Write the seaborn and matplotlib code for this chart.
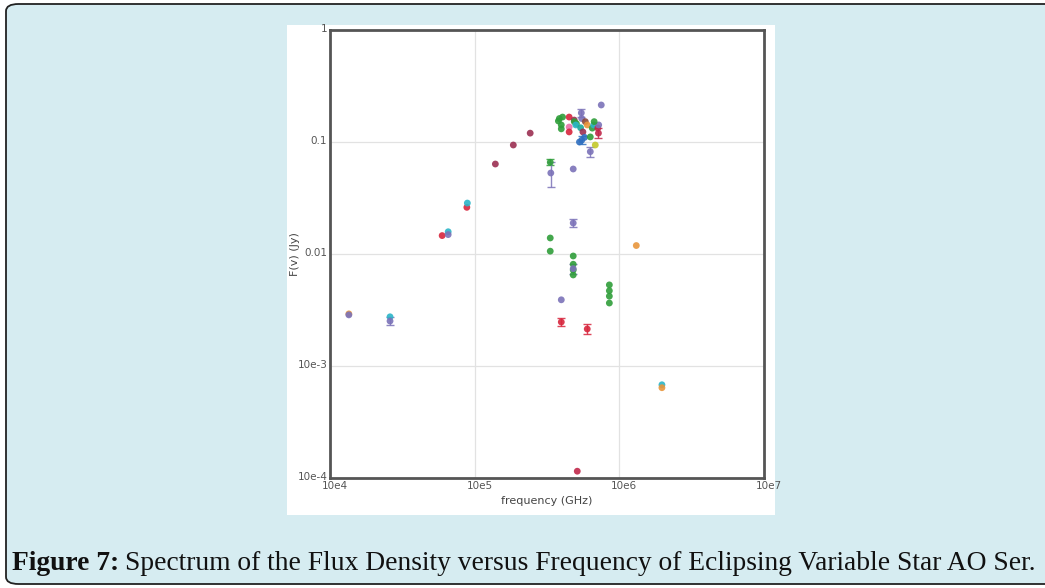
import numpy as np
import pandas as pd
import matplotlib
matplotlib.use("Agg")
import matplotlib.pyplot as plt
import matplotlib.transforms as mtransforms
from matplotlib.patches import FancyBboxPatch, Rectangle
import seaborn as sns

# ---- data (frequency in GHz, flux density in Jy) ----
freq = [1.35e4, 1.35e4, 2.6e4, 2.6e4, 5.96e4, 6.56e4, 6.56e4, 8.83e4, 8.9e4,
        1.39e5, 1.85e5, 2.42e5,
        3.79e5, 3.97e5, 3.97e5, 3.85e5, 4.05e5,
        4.5e5, 4.88e5, 4.5e5, 4.5e5, 4.88e5, 5.05e5, 5.0e5,
        5.46e5, 5.5e5, 5.4e5, 5.82e5, 6.0e5, 5.6e5, 5.5e5, 5.3e5, 5.75e5,
        6.3e5, 6.5e5, 6.65e5, 6.82e5, 6.3e5, 7.17e5, 7.1e5, 7.2e5, 6.7e5,
        7.5e5,
        3.33e5, 3.36e5, 4.8e5, 4.8e5,
        3.33e5, 3.33e5, 4.8e5, 4.8e5, 4.8e5, 4.8e5, 4.8e5,
        8.53e5, 8.53e5, 8.53e5, 8.53e5,
        3.97e5, 3.97e5, 6.0e5,
        1.31e6, 1.97e6, 1.97e6, 5.12e5]
flux = [0.00292, 0.00286, 0.00275, 0.00252, 0.0146, 0.0158, 0.0149, 0.0261, 0.0285,
        0.0636, 0.094, 0.12,
        0.154, 0.142, 0.131, 0.162, 0.167,
        0.167, 0.157, 0.136, 0.123, 0.152, 0.146, 0.142,
        0.182, 0.162, 0.134, 0.152, 0.142, 0.123, 0.104, 0.1, 0.11,
        0.111, 0.133, 0.142, 0.094, 0.082, 0.12, 0.133, 0.142, 0.152,
        0.214,
        0.0659, 0.0529, 0.0574, 0.0189,
        0.0139, 0.0106, 0.0096, 0.0081, 0.0072, 0.0065, 0.0074,
        0.0053, 0.0047, 0.0042, 0.00365,
        0.0039, 0.00247, 0.00214,
        0.0119, 0.00068, 0.00064, 0.000115]
flux_err = [0, 0, 0, 0.0002, 0, 0, 0, 0, 0,
            0, 0, 0,
            0, 0, 0, 0, 0,
            0, 0, 0, 0, 0, 0, 0,
            0.015, 0, 0, 0, 0, 0, 0.008, 0, 0,
            0, 0, 0, 0, 0.008, 0.012, 0, 0, 0,
            0,
            0.004, 0.0135, 0, 0.0015,
            0, 0, 0, 0, 0, 0, 0.0008,
            0, 0, 0, 0,
            0, 0.0002, 0.00022,
            0, 0, 0, 0]
source = ["orange", "purple", "cyan", "purple", "red", "cyan", "purple", "red", "cyan",
          "maroon", "maroon", "maroon",
          "green", "green", "green", "green", "green",
          "red", "maroon", "pink", "red", "green", "green", "cyan",
          "purple", "purple", "teal", "brown", "orange", "maroon", "blue", "blue", "blue",
          "green", "green", "cyan", "olive", "purple", "crimson", "crimson", "purple", "green",
          "purple",
          "green", "purple", "purple", "purple",
          "green", "green", "green", "green", "green", "green", "purple",
          "green", "green", "green", "green",
          "purple", "red", "red",
          "orange", "cyan", "orange", "crimson"]

colors = {"orange": "#e8963c", "purple": "#7b72b8", "cyan": "#2bb5c8", "red": "#d7263d",
          "maroon": "#9b2f52", "green": "#2f9e3a", "pink": "#e86fa8", "teal": "#1aa899",
          "brown": "#8c4a3a", "blue": "#2f6fc0", "olive": "#c2c82a", "crimson": "#c0284a"}

xticks = [1e4, 1e5, 1e6, 1e7]
xtick_labels = ["10e4", "10e5", "10e6", "10e7"]
yticks = [1e-4, 1e-3, 1e-2, 1e-1, 1]
ytick_labels = ["10e-4", "10e-3", "0.01", "0.1", "1"]

df = pd.DataFrame({"freq": freq, "flux": flux, "err": flux_err, "source": source})

# ---- figure ----
sns.set_theme(style="white")
plt.rcParams["font.family"] = ["DejaVu Sans"]
W, H = 1045, 588
fig = plt.figure(figsize=(W / 100, H / 100), dpi=100)
fig.patch.set_facecolor("white")

# light blue rounded frame
frame = FancyBboxPatch((6 / W, 4 / H), (W + 20) / W, (H - 8) / H,
                       boxstyle="round,pad=0,rounding_size=0.012",
                       transform=fig.transFigure, facecolor="#d6ecf1",
                       edgecolor="#222222", linewidth=1.3, zorder=-3)
fig.patches.append(frame)
# white chart panel
panel = Rectangle((287 / W, 1 - 515 / H), (775 - 287) / W, (515 - 25) / H,
                  transform=fig.transFigure, facecolor="white", edgecolor="none", zorder=-2)
fig.patches.append(panel)

ax = fig.add_axes([330 / W, 1 - 478 / H, (764 - 330) / W, (478 - 30) / H])
ax.set_zorder(1)
ax.set_facecolor("white")
ax.set_xscale("log")
ax.set_yscale("log")
ax.set_xlim(1e4, 1e7)
ax.set_ylim(1e-4, 1)

# error bars
for src, g in df[df["err"] > 0].groupby("source"):
    ax.errorbar(g["freq"], g["flux"], yerr=g["err"], fmt="none", ecolor=colors[src],
                elinewidth=1.0, capsize=3, capthick=1.0, alpha=0.85, zorder=2)

sns.scatterplot(data=df, x="freq", y="flux", hue="source", palette=colors, s=24,
                edgecolor="none", alpha=0.9, legend=False, ax=ax, zorder=3)

ax.set_xticks(xticks)
ax.set_xticklabels(xtick_labels)
ax.set_yticks(yticks)
ax.set_yticklabels(ytick_labels)
ax.minorticks_off()
ax.tick_params(axis="both", length=0, labelsize=7.5, labelcolor="#555555", pad=2)
dx = mtransforms.ScaledTranslation(0.05, 0, fig.dpi_scale_trans)
dy = mtransforms.ScaledTranslation(0, 0.02, fig.dpi_scale_trans)
for lab in ax.get_xticklabels():
    lab.set_transform(lab.get_transform() + dx)
for lab in ax.get_yticklabels():
    lab.set_transform(lab.get_transform() + dy)
ax.grid(True, which="major", color="#e2e2e2", linewidth=0.9)
for sp in ax.spines.values():
    sp.set_color("#555555")
    sp.set_linewidth(2)
ax.set_xlabel("frequency (GHz)", fontsize=8, color="#444444", labelpad=4)
ax.set_ylabel("F(v) (Jy)", fontsize=8, color="#444444", labelpad=-2)

# caption
fs = 19.8
t1 = fig.text(12 / W, 1 - 564 / H, "Figure 7:", fontsize=fs, fontweight="bold",
              family="Liberation Serif", va="center", ha="left", color="#111111")
renderer = fig.canvas.get_renderer()
bb = t1.get_window_extent(renderer=renderer)
fig.text((bb.x1 + 6) / W, 1 - 564 / H,
         "Spectrum of the Flux Density versus Frequency of Eclipsing Variable Star AO Ser.",
         fontsize=fs, family="Liberation Serif", va="center", ha="left", color="#111111")

fig.savefig("out.png", dpi=100)
